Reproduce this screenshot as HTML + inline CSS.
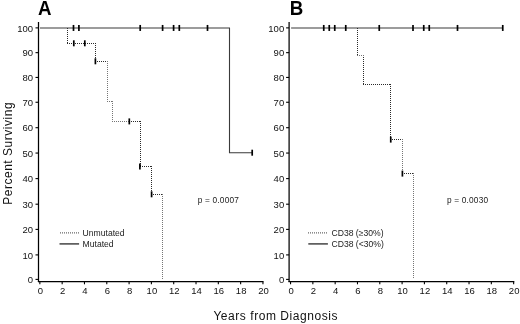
<!DOCTYPE html>
<html><head><meta charset="utf-8"><title>Survival</title>
<style>html,body{margin:0;padding:0;background:#fff;}svg{display:block;}text{font-family:"Liberation Sans", sans-serif;}</style>
</head><body>
<svg width="520" height="324" viewBox="0 0 520 324">
<rect width="520" height="324" fill="#fff"/>
<g stroke="#000" stroke-width="1.25" fill="none">
<path d="M38.50 22.1 V282.1"/>
<path d="M37.90 281.55 H263.50"/>
</g>
<g stroke="#000" stroke-width="1.1" fill="none">
<path d="M35.50 27.88 H38.50"/>
<path d="M35.50 52.65 H38.50"/>
<path d="M35.50 77.44 H38.50"/>
<path d="M35.50 102.26 H38.50"/>
<path d="M35.50 127.70 H38.50"/>
<path d="M35.50 153.06 H38.50"/>
<path d="M35.50 178.60 H38.50"/>
<path d="M35.50 204.20 H38.50"/>
<path d="M35.50 229.40 H38.50"/>
<path d="M35.50 254.90 H38.50"/>
<path d="M35.50 279.40 H38.50"/>
<path d="M39.85 281.6 V284.3"/>
<path d="M62.16 281.6 V284.3"/>
<path d="M84.47 281.6 V284.3"/>
<path d="M106.78 281.6 V284.3"/>
<path d="M129.09 281.6 V284.3"/>
<path d="M151.40 281.6 V284.3"/>
<path d="M173.71 281.6 V284.3"/>
<path d="M196.02 281.6 V284.3"/>
<path d="M218.33 281.6 V284.3"/>
<path d="M240.64 281.6 V284.3"/>
<path d="M262.95 281.6 V284.3"/>
</g>
<g font-size="9.5" fill="#111">
<text x="33.10" y="31.63" text-anchor="end">100</text>
<text x="33.10" y="56.40" text-anchor="end">90</text>
<text x="33.10" y="81.19" text-anchor="end">80</text>
<text x="33.10" y="106.01" text-anchor="end">70</text>
<text x="33.10" y="131.45" text-anchor="end">60</text>
<text x="33.10" y="156.81" text-anchor="end">50</text>
<text x="33.10" y="182.35" text-anchor="end">40</text>
<text x="33.10" y="207.95" text-anchor="end">30</text>
<text x="33.10" y="233.15" text-anchor="end">20</text>
<text x="33.10" y="258.65" text-anchor="end">10</text>
<text x="33.10" y="283.15" text-anchor="end">0</text>
<text x="40.35" y="293.7" text-anchor="middle">0</text>
<text x="62.66" y="293.7" text-anchor="middle">2</text>
<text x="84.97" y="293.7" text-anchor="middle">4</text>
<text x="107.28" y="293.7" text-anchor="middle">6</text>
<text x="129.59" y="293.7" text-anchor="middle">8</text>
<text x="151.90" y="293.7" text-anchor="middle">10</text>
<text x="174.21" y="293.7" text-anchor="middle">12</text>
<text x="196.52" y="293.7" text-anchor="middle">14</text>
<text x="218.83" y="293.7" text-anchor="middle">16</text>
<text x="241.14" y="293.7" text-anchor="middle">18</text>
<text x="263.45" y="293.7" text-anchor="middle">20</text>
</g>
<text transform="translate(38.10 14.55) scale(0.97 1)" font-size="19.3" font-weight="bold" fill="#000">A</text>
<path d="M40.00 27.95 L229.50 27.95 L229.50 152.70 L252.20 152.70" stroke="#3a3a3a" stroke-width="1.1" fill="none"/>
<path d="M67.5 28 V44 M67 43.5 H96 M95.5 43 V62 M95 61.5 H108 M129.5 121 V122 M129 121.5 H141 M140.5 121 V167 M140 166.5 H152 M151.5 166 V195 M151 194.5 H163" stroke="#2a2a2a" stroke-width="1" stroke-dasharray="1 1" fill="none"/>
<path d="M107.5 61 V102 M107 101.5 H113 M112.5 101 V122 M112 121.5 H130 M162.5 194 V279" stroke="#757575" stroke-width="1" stroke-dasharray="1 1" fill="none"/>
<g stroke="#000" stroke-width="1.7">
<path d="M73.50 24.95 V30.95"/>
<path d="M78.90 24.95 V30.95"/>
<path d="M140.20 24.95 V30.95"/>
<path d="M162.60 24.95 V30.95"/>
<path d="M173.60 24.95 V30.95"/>
<path d="M179.30 24.95 V30.95"/>
<path d="M207.50 24.95 V30.95"/>
<path d="M252.20 149.70 V155.70"/>
<path d="M73.80 40.30 V46.30"/>
<path d="M84.80 40.30 V46.30"/>
<path d="M95.40 58.30 V64.30"/>
<path d="M129.30 118.40 V124.40"/>
<path d="M139.90 163.50 V169.50"/>
<path d="M151.60 191.30 V197.30"/>
</g>
<text x="197.70" y="203.25" font-size="8.3" fill="#222" textLength="41.2" lengthAdjust="spacing">p = 0.0007</text>
<path d="M60 232.9 H80" stroke="#444" stroke-width="1" stroke-dasharray="1 1"/>
<path d="M59.50 243.9 H79.10" stroke="#444" stroke-width="1.5"/>
<text x="82.60" y="236.45" font-size="8.6" fill="#222">Unmutated</text>
<text x="82.60" y="247.3" font-size="8.6" fill="#222">Mutated</text>
<g stroke="#000" stroke-width="1.25" fill="none">
<path d="M289.10 22.1 V282.1"/>
<path d="M288.50 281.55 H514.30"/>
</g>
<g stroke="#000" stroke-width="1.1" fill="none">
<path d="M286.10 27.88 H289.10"/>
<path d="M286.10 52.65 H289.10"/>
<path d="M286.10 77.44 H289.10"/>
<path d="M286.10 102.26 H289.10"/>
<path d="M286.10 127.70 H289.10"/>
<path d="M286.10 153.06 H289.10"/>
<path d="M286.10 178.60 H289.10"/>
<path d="M286.10 204.20 H289.10"/>
<path d="M286.10 229.40 H289.10"/>
<path d="M286.10 254.90 H289.10"/>
<path d="M286.10 279.40 H289.10"/>
<path d="M290.55 281.6 V284.3"/>
<path d="M312.86 281.6 V284.3"/>
<path d="M335.17 281.6 V284.3"/>
<path d="M357.48 281.6 V284.3"/>
<path d="M379.79 281.6 V284.3"/>
<path d="M402.10 281.6 V284.3"/>
<path d="M424.41 281.6 V284.3"/>
<path d="M446.72 281.6 V284.3"/>
<path d="M469.03 281.6 V284.3"/>
<path d="M491.34 281.6 V284.3"/>
<path d="M513.65 281.6 V284.3"/>
</g>
<g font-size="9.5" fill="#111">
<text x="284.20" y="31.63" text-anchor="end">100</text>
<text x="284.20" y="56.40" text-anchor="end">90</text>
<text x="284.20" y="81.19" text-anchor="end">80</text>
<text x="284.20" y="106.01" text-anchor="end">70</text>
<text x="284.20" y="131.45" text-anchor="end">60</text>
<text x="284.20" y="156.81" text-anchor="end">50</text>
<text x="284.20" y="182.35" text-anchor="end">40</text>
<text x="284.20" y="207.95" text-anchor="end">30</text>
<text x="284.20" y="233.15" text-anchor="end">20</text>
<text x="284.20" y="258.65" text-anchor="end">10</text>
<text x="284.20" y="283.15" text-anchor="end">0</text>
<text x="291.05" y="293.7" text-anchor="middle">0</text>
<text x="313.36" y="293.7" text-anchor="middle">2</text>
<text x="335.67" y="293.7" text-anchor="middle">4</text>
<text x="357.98" y="293.7" text-anchor="middle">6</text>
<text x="380.29" y="293.7" text-anchor="middle">8</text>
<text x="402.60" y="293.7" text-anchor="middle">10</text>
<text x="424.91" y="293.7" text-anchor="middle">12</text>
<text x="447.22" y="293.7" text-anchor="middle">14</text>
<text x="469.53" y="293.7" text-anchor="middle">16</text>
<text x="491.84" y="293.7" text-anchor="middle">18</text>
<text x="514.15" y="293.7" text-anchor="middle">20</text>
</g>
<text transform="translate(289.80 14.55) scale(0.97 1)" font-size="19.3" font-weight="bold" fill="#000">B</text>
<path d="M291.10 27.95 L502.75 27.95" stroke="#3a3a3a" stroke-width="1.1" fill="none"/>
<path d="M357.5 28 V56 M363.5 55 V85 M363 84.5 H391 M390.5 84 V140 M390 139.5 H403 M402 173.5 H414" stroke="#2a2a2a" stroke-width="1" stroke-dasharray="1 1" fill="none"/>
<path d="M357 55.5 H364 M402.5 139 V174 M413.5 173 V279" stroke="#757575" stroke-width="1" stroke-dasharray="1 1" fill="none"/>
<g stroke="#000" stroke-width="1.7">
<path d="M323.75 24.95 V30.95"/>
<path d="M329.25 24.95 V30.95"/>
<path d="M334.75 24.95 V30.95"/>
<path d="M345.75 24.95 V30.95"/>
<path d="M379.25 24.95 V30.95"/>
<path d="M413.00 24.95 V30.95"/>
<path d="M423.75 24.95 V30.95"/>
<path d="M429.25 24.95 V30.95"/>
<path d="M457.50 24.95 V30.95"/>
<path d="M502.75 24.95 V30.95"/>
<path d="M390.75 136.60 V142.60"/>
<path d="M402.40 170.60 V176.60"/>
</g>
<text x="446.90" y="203.25" font-size="8.3" fill="#222" textLength="41.2" lengthAdjust="spacing">p = 0.0030</text>
<path d="M308 232.9 H328" stroke="#444" stroke-width="1" stroke-dasharray="1 1"/>
<path d="M308.30 243.9 H327.90" stroke="#444" stroke-width="1.5"/>
<text x="331.50" y="236.45" font-size="8.6" fill="#222">CD38 (≥30%)</text>
<text x="331.50" y="247.3" font-size="8.6" fill="#222">CD38 (&lt;30%)</text>
<text transform="translate(12.4 204.8) rotate(-90)" font-size="12" letter-spacing="0.52" fill="#111">Percent Surviving</text>
<text x="213.4" y="320.4" font-size="12" letter-spacing="0.55" fill="#111">Years from Diagnosis</text>
</svg>
</body></html>
